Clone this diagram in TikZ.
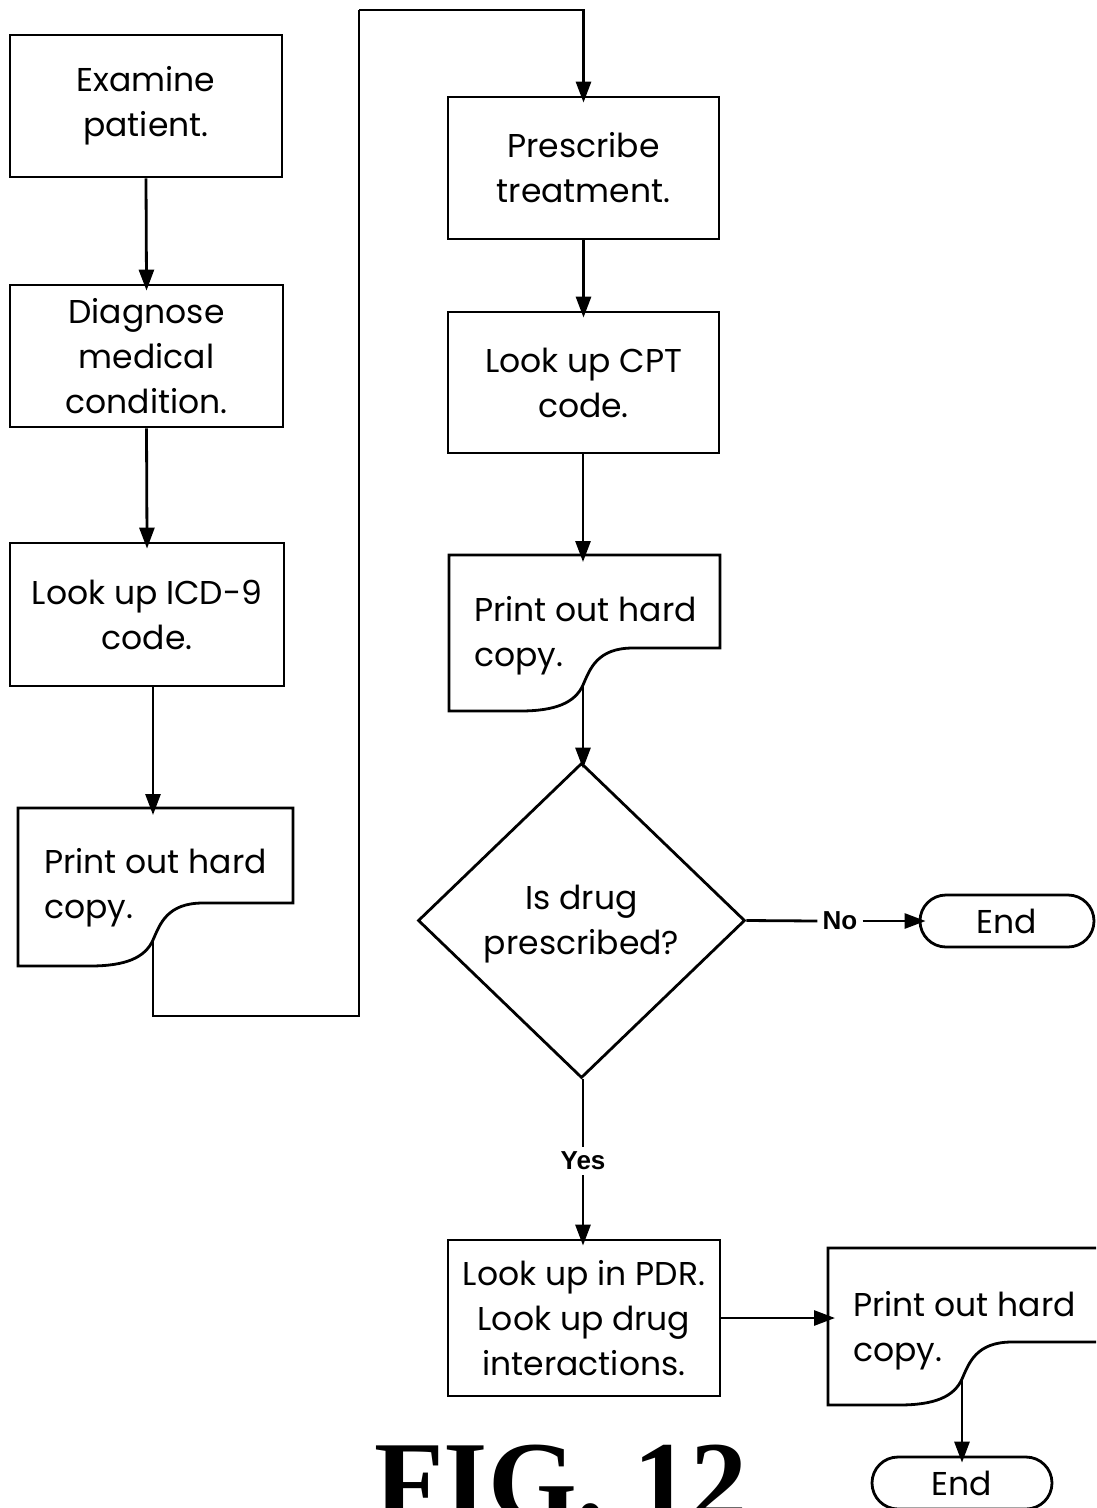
\documentclass[tikz,border=0pt]{standalone}
\usepackage{fontspec}
\setmainfont{Poppins}
\newfontfamily\labelfont{Liberation Sans}
\newfontfamily\figfont{Liberation Serif}
\usetikzlibrary{arrows.meta,shapes.geometric,calc}

\newcommand{\boxfont}{\fontsize{33}{45}\selectfont}

\tikzset{
  line/.style={line width=2.8pt, draw=black},
  arr/.style={line, -{Triangle[length=21pt,width=15pt]}, shorten >=-7pt},
  box/.style={line, rectangle, inner sep=0pt, align=center, font=\boxfont},
  term/.style={line, rectangle, rounded corners=26pt, minimum height=52pt,
               inner sep=0pt, font=\boxfont},
  doctext/.style={anchor=west, align=left, inner sep=0pt, font=\boxfont},
  answer/.style={inner sep=5pt, font=\labelfont\bfseries\fontsize{26}{26}\selectfont},
}

% document symbol: #1 name, #2 left, #3 top, #4 right, #5 bottom, #6 x of the wave
\newcommand{\docshape}[6]{%
  \draw[line] (#2,#3) -- (#4,#3) -- (#4,#5-63) -- (#6+50,#5-63)
    .. controls (#6+14,#5-63) and (#6+7,#5-42) .. (#6,#5-26)
    .. controls (#6-8,#5-8) and (#6-28,#5) .. (#6-63,#5)
    -- (#2,#5) -- cycle;
  \coordinate (#1top) at (#6,#3);
  \coordinate (#1out) at (#6,#5-26);
  \coordinate (#1left) at (#2,#3);
}

\begin{document}
\begin{tikzpicture}[x=1pt, y=-1pt]
\path[use as bounding box, clip] (0,0) rectangle (1096,1508);
\fill[white] (0,0) rectangle (1096,1508);

% left column
\node[box, minimum width=272pt, minimum height=142pt] (n1) at (146,106) {Examine\\patient.};
\node[box, minimum width=273pt, minimum height=142pt] (n2) at (146.5,356) {Diagnose\\medical\\condition.};
\node[box, minimum width=274pt, minimum height=143pt] (n3) at (147,614.5) {Look up ICD-9\\code.};
\docshape{d1}{18}{808}{293}{966}{153}
\node[doctext] (d1t) at (44,888) {Print out hard\\copy.};

% middle column
\node[box, minimum width=271pt, minimum height=142pt] (n4) at (583.5,168) {Prescribe\\treatment.};
\node[box, minimum width=271pt, minimum height=141pt] (n5) at (583.5,382.5) {Look up CPT\\code.};
\docshape{d2}{449}{555}{720}{711}{583}
\node[doctext] (d2t) at (474,636) {Print out hard\\copy.};

\node[line, diamond, minimum width=327pt, minimum height=315pt, inner sep=0pt] (dia) at (581.5,920.5) {};
\node[align=center, inner sep=0pt, font=\boxfont] (diat) at (581.5,924) {Is drug\\prescribed?};

\node[term, minimum width=174pt] (end1) at (1007,921) {End};
\node[answer] (no) at (840,921) {No};

\node[answer] (yes) at (583,1161) {Yes};
\node[box, minimum width=272pt, minimum height=156pt] (n7) at (584,1318) {Look up in PDR.\\Look up drug\\interactions.};

% lower right
\docshape{d3}{828}{1248}{1120}{1405}{962}
\node[doctext] (d3t) at (853,1331) {Print out hard\\copy.};
\node[term, minimum width=180pt] (end2) at (962,1483) {End};

\node[anchor=base, inner sep=0pt, font=\figfont\bfseries\fontsize{114}{114}\selectfont] (fig) at (561,1520) {FIG. 12};

% connectors
\draw[arr] (n1.south) -- (n2.north);
\draw[arr] (n2.south) -- (n3.north);
\draw[arr] (n3.south -| d1top) -- (d1top);
\coordinate (c1) at (359,1016);
\coordinate (c2) at (359,10);
\draw[line] (d1out) |- (c1) -- (c2);
\draw[arr] (c2) -| (n4.north);
\draw[arr] (n4.south) -- (n5.north);
\draw[arr] (n5.south -| d2top) -- (d2top);
\draw[arr] (d2out) -- (d2out |- dia.north);
\draw[line] (dia.east) -- (no.west);
\draw[arr] (no.east) -- (end1.west);
\draw[line] (dia.south -| yes) -- (yes.north);
\draw[arr] (yes.south) -- (n7.north -| yes);
\draw[arr] (n7.east) -- (n7.east -| d3left);
\draw[arr] (d3out) -- (d3out |- end2.north);
\end{tikzpicture}
\end{document}
